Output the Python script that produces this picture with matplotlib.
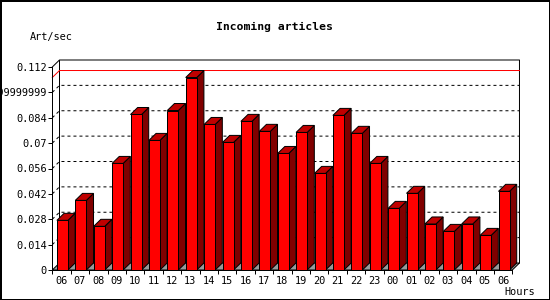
import matplotlib
matplotlib.use('Agg')
import matplotlib.pyplot as plt
from matplotlib.patches import Polygon, Rectangle

# data
hours = ['06', '07', '08', '09', '10', '11', '12', '13', '14', '15', '16', '17', '18',
         '19', '20', '21', '22', '23', '00', '01', '02', '03', '04', '05', '06']
art_per_sec = [0.0274, 0.0384, 0.0241, 0.0588, 0.0858, 0.0715, 0.0880, 0.1062,
               0.0803, 0.0704, 0.0820, 0.0765, 0.0643, 0.0759, 0.0533, 0.0853,
               0.0754, 0.0588, 0.0340, 0.0423, 0.0254, 0.0213, 0.0254, 0.0191,
               0.0434]
y_ticks = [0, 0.014, 0.028, 0.042, 0.056, 0.07, 0.084, 0.098, 0.112]
y_tick_labels = ['0', '0.014', '0.028', '0.042', '0.056', '0.07', '0.084',
                 '0.09799999999999999', '0.112']
y_max = 0.112

PX = 1 / 100 * 72  # one pixel in points
MONO = 'DejaVu Sans Mono'

fig = plt.figure(figsize=(5.5, 3), dpi=100)
ax = fig.add_axes([52.3 / 550, 30 / 300, 460 / 550, 203 / 300])
ax.set_xlim(0, len(hours))
ax.set_ylim(0, y_max)

# 3d depth in data units (about 7 px each way)
dx = 0.39
dy = 7 * y_max / 203
n = len(hours)

# floor
ax.add_patch(Polygon([(0, 0), (n, 0), (n + dx, dy), (dx, dy)], closed=True,
                     facecolor='#999999', edgecolor='black', lw=PX,
                     clip_on=False, zorder=1))

# back wall outline
ax.plot([0, dx, n + dx, n + dx], [y_max, y_max + dy, y_max + dy, dy],
        color='black', lw=PX, clip_on=False, zorder=1)
ax.plot([dx, dx], [dy, y_max + dy], color='black', lw=PX, clip_on=False, zorder=1)

# dashed grid on side and back wall
for v in y_ticks[1:-1]:
    ax.plot([0, dx, n + dx], [v, v + dy, v + dy], color='black', lw=PX,
            dashes=(3, 3), clip_on=False, zorder=1)

# max line
vmax = max(art_per_sec)
ax.plot([0, dx, n + dx], [vmax, vmax + dy, vmax + dy], color='red', lw=PX,
        clip_on=False, zorder=1.5)

# bars
for i, v in enumerate(art_per_sec):
    x0 = i + 0.25
    x1 = i + 0.85
    ax.add_patch(Polygon([(x1, 0), (x1 + dx, dy), (x1 + dx, v + dy), (x1, v)],
                         closed=True, facecolor='#800000', edgecolor='black',
                         lw=PX, clip_on=False, zorder=2))
    ax.add_patch(Polygon([(x0, v), (x1, v), (x1 + dx, v + dy), (x0 + dx, v + dy)],
                         closed=True, facecolor='#c00000', edgecolor='black',
                         lw=PX, clip_on=False, zorder=2))
    ax.add_patch(Rectangle((x0, 0), x1 - x0, v, facecolor='#ff0000',
                           edgecolor='black', lw=PX, clip_on=False, zorder=2))

# front axes
for s in ['top', 'right']:
    ax.spines[s].set_visible(False)
for s in ['left', 'bottom']:
    ax.spines[s].set_linewidth(PX)
    ax.spines[s].set_zorder(3)
ax.patch.set_visible(False)

ax.set_yticks(y_ticks)
ax.set_yticklabels(y_tick_labels, fontfamily=MONO, fontsize=7.4)
ax.tick_params(axis='y', length=4 * PX, width=PX, pad=1)

ax.set_xticks(range(n + 1))
ax.set_xticklabels([])
ax.tick_params(axis='x', which='major', length=4 * PX, width=PX)
ax.set_xticks([i + 0.5 for i in range(n)], minor=True)
ax.set_xticklabels(hours, minor=True, fontfamily=MONO, fontsize=7.4)
ax.tick_params(axis='x', which='minor', length=0, pad=4)

fig.text(274 / 550, 1 - 26.5 / 300, 'Incoming articles', ha='center', va='center',
         fontfamily=MONO, fontweight='bold', fontsize=8.2)
fig.text(30 / 550, 1 - 37 / 300, 'Art/sec', ha='left', va='center',
         fontfamily=MONO, fontsize=7.4)
fig.text(504 / 550, 1 - 292 / 300, 'Hours', ha='left', va='center',
         fontfamily=MONO, fontsize=7.4)

# outer frame
fig.patches.append(Rectangle((0, 0), 1, 1, transform=fig.transFigure, fill=False,
                             edgecolor='black', lw=3 * PX))

fig.savefig('out.png', dpi=100)
